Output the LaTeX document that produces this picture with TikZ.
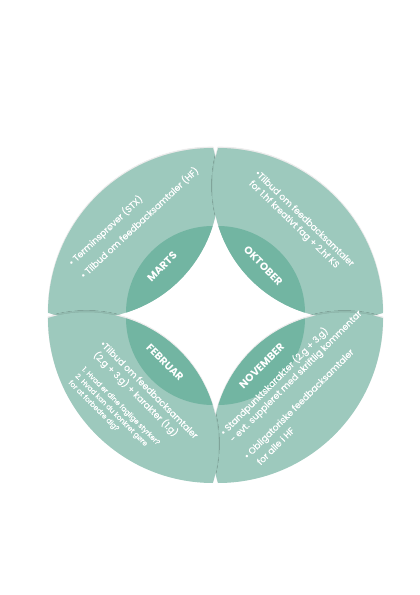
\documentclass[tikz,border=0pt]{standalone}
\usepackage{fontspec}
\setmainfont{Poppins}
\newfontfamily\bodyfont{Poppins}[FakeBold=0.5]
\usetikzlibrary{shadows.blur}
\definecolor{leaflight}{RGB}{157,201,189}
\definecolor{leafdark}{RGB}{114,181,162}
\begin{document}
\begin{tikzpicture}[x=1pt,y=1pt,
  leaf/.style={fill=leaflight, blur shadow={shadow xshift=0pt, shadow yshift=1pt, shadow blur radius=0.8pt, shadow opacity=12}},
  core/.style={fill=leafdark},
  txt/.style={text=white, font=\bodyfont\fontsize{9}{11.5}\selectfont, align=left, inner sep=0pt},
  small/.style={text=white, font=\bodyfont\fontsize{7.1}{9.5}\selectfont, align=left, inner sep=0pt},
  month/.style={text=white, font=\fontsize{10.5}{12}\selectfont\bfseries, inner sep=0pt}]
\useasboundingbox (-215.5,-279.5) rectangle (204.5,315.5);
% top-left (MARTS)
\path[leaf] (-167.5,2.5) arc[start angle=180,end angle=90,radius=165] arc[start angle=16.9,end angle=-106.9,radius=132.2] -- cycle;
\begin{scope}
\clip (-167.5,2.5) arc[start angle=180,end angle=90,radius=165] arc[start angle=16.9,end angle=-106.9,radius=132.2] -- cycle;
\fill[core] (-2.5,2.5) circle (87);
\end{scope}
% top-right (OKTOBER)
\path[leaf] (2.5,167.5) arc[start angle=90,end angle=0,radius=165] arc[start angle=-73.1,end angle=-196.9,radius=132.2] -- cycle;
\begin{scope}
\clip (2.5,167.5) arc[start angle=90,end angle=0,radius=165] arc[start angle=-73.1,end angle=-196.9,radius=132.2] -- cycle;
\fill[core] (2.5,2.5) circle (87);
\end{scope}
% bottom-right (NOVEMBER)
\path[leaf] (167.5,-2.5) arc[start angle=0,end angle=-90,radius=165] arc[start angle=196.9,end angle=73.1,radius=132.2] -- cycle;
\begin{scope}
\clip (167.5,-2.5) arc[start angle=0,end angle=-90,radius=165] arc[start angle=196.9,end angle=73.1,radius=132.2] -- cycle;
\fill[core] (2.5,-2.5) circle (87);
\end{scope}
% bottom-left (FEBRUAR)
\path[leaf] (-2.5,-167.5) arc[start angle=-90,end angle=-180,radius=165] arc[start angle=106.9,end angle=-16.9,radius=132.2] -- cycle;
\begin{scope}
\clip (-2.5,-167.5) arc[start angle=-90,end angle=-180,radius=165] arc[start angle=106.9,end angle=-16.9,radius=132.2] -- cycle;
\fill[core] (-2.5,-2.5) circle (87);
\end{scope}
% month labels
\node[month, rotate=45] (marts) at (-53.5,48.8) {MARTS};
\node[month, rotate=-45] (oktober) at (47.8,49.7) {OKTOBER};
\node[month, rotate=-45] (februar) at (-50.5,-47) {FEBRUAR};
\node[month, rotate=45] (november) at (46.2,-50.3) {NOVEMBER};
% texts
\node[txt, rotate=43, anchor=west] (tltext) at (-139.9,45.4) {• Terminsprøver (STX)\\[6pt]• Tilbud om feedbacksamtaler (HF)};
\node[txt, rotate=-44, anchor=west] (trtext) at (36.4,139.2) {•Tilbud om feedbacksamtaler\\\hspace{3pt}for 1.hf kreativt fag + 2.hf KS};
\node[txt, rotate=-45, anchor=west] (bltext) at (-118.8,-31.8) {•Tilbud om feedbacksamtaler\\[1pt]\hspace{3pt}(2.g + 3.g) + karakter (1.g)};
\node[small, rotate=-45, anchor=west] (blsmall) at (-139.5,-59.6) {1. Hvad er dine faglige styrker?\\2. Hvad kan du konkret gøre\\for at forbedre dig?};
\node[txt, rotate=45, anchor=west] (brtext) at (10.4,-122.5) {• Standpunktskarakter (2.g + 3.g)\\\hspace{2pt}- evt. suppleret med skriftlig kommentar};
\node[txt, rotate=45, anchor=west] (brtext2) at (34.4,-146.5) {• Obligatoriske feedbacksamtaler\\[2pt]\hspace{5pt}for alle i HF};
\end{tikzpicture}
\end{document}
